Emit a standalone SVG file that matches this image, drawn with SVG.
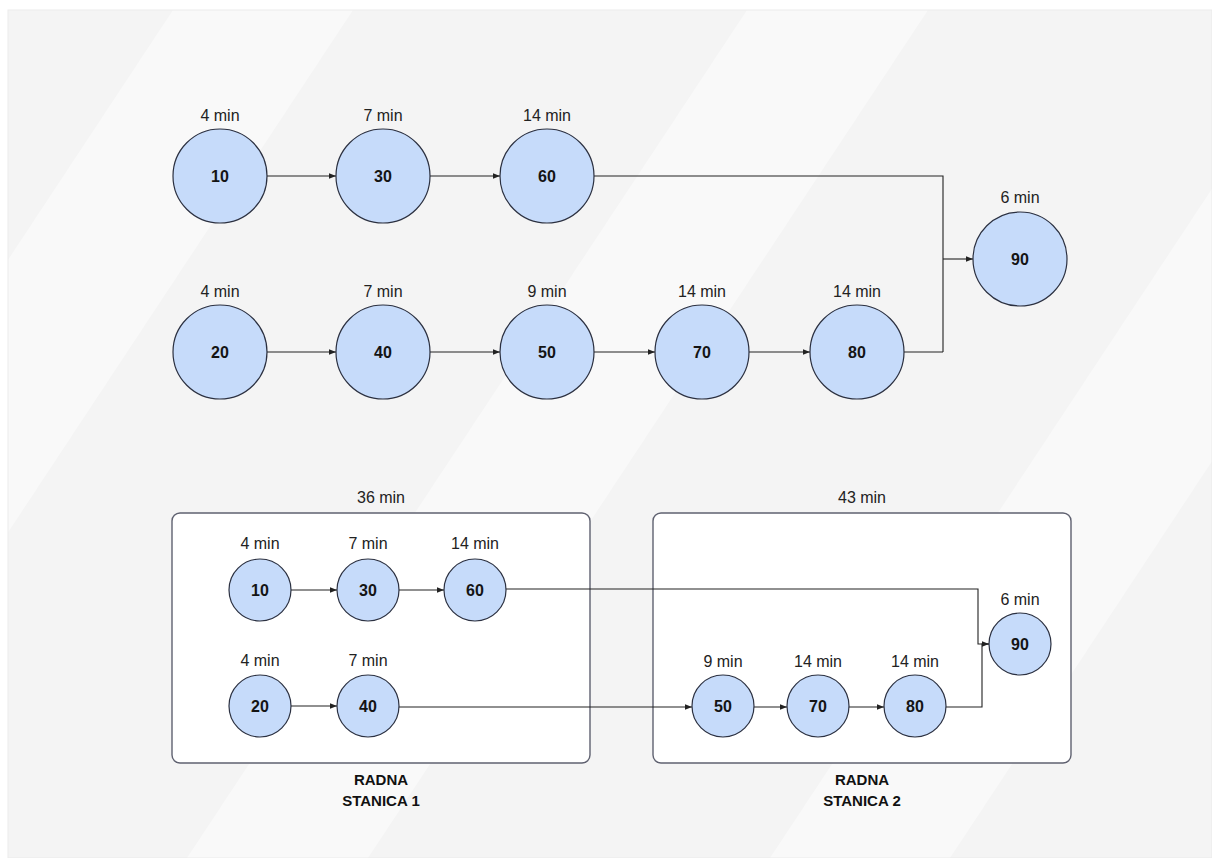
<svg xmlns="http://www.w3.org/2000/svg" width="1212" height="858" viewBox="0 0 1212 858">
<defs>
<marker id="arr" viewBox="0 0 10 10" refX="10" refY="5" markerWidth="7" markerHeight="7" markerUnits="userSpaceOnUse" orient="auto">
<path d="M0,1 L10,5 L0,9 z" fill="#222"/>
</marker>
<style>
.n{fill:#c6dbfa;stroke:#2b3040;stroke-width:1.2}
.t{font-family:"Liberation Sans",Arial,sans-serif;font-size:16px;font-weight:bold;fill:#141414;text-anchor:middle;dominant-baseline:central}
.l{font-family:"Liberation Sans",Arial,sans-serif;font-size:16px;fill:#222;text-anchor:middle;dominant-baseline:central}
.b{font-family:"Liberation Sans",Arial,sans-serif;font-size:15px;font-weight:bold;fill:#111;text-anchor:middle;dominant-baseline:central}
.c{fill:none;stroke:#222;stroke-width:1.1}
.box{fill:#fff;stroke:#5f6170;stroke-width:1.4}
</style>
</defs>
<rect x="0" y="0" width="1212" height="858" fill="#fff"/>
<rect x="8" y="10" width="1204" height="848" fill="#f4f4f4"/>
<g id="bg-stripes" fill="#f9f9f9">
<polygon points="173,10 353,10 -207,858 -387,858"/>
<polygon points="747,10 928,10 368,858 187,858"/>
<polygon points="1330,10 1510,10 950,858 770,858"/>
</g>
<rect x="0" y="0" width="8" height="858" fill="#fff"/>
<rect x="8" y="10" width="1204" height="848" fill="none" stroke="#ebebeb" stroke-width="1"/>

<g id="station1">
<rect class="box" x="172" y="513" width="418" height="250" rx="8"/>
<text class="l" x="381" y="497">36 min</text>
<text class="b" x="381" y="779">RADNA</text>
<text class="b" x="381" y="800">STANICA 1</text>
</g>
<g id="station2">
<rect class="box" x="653" y="513" width="418" height="250" rx="8"/>
<text class="l" x="862" y="497">43 min</text>
<text class="b" x="862" y="779">RADNA</text>
<text class="b" x="862" y="800">STANICA 2</text>
</g>

<g id="connectors">
<line class="c" x1="267" y1="176" x2="336" y2="176" marker-end="url(#arr)"/>
<line class="c" x1="430" y1="176" x2="500" y2="176" marker-end="url(#arr)"/>
<polyline class="c" points="594,176 943,176 943,352"/>
<line class="c" x1="267" y1="352" x2="336" y2="352" marker-end="url(#arr)"/>
<line class="c" x1="430" y1="352" x2="500" y2="352" marker-end="url(#arr)"/>
<line class="c" x1="594" y1="352" x2="655" y2="352" marker-end="url(#arr)"/>
<line class="c" x1="749" y1="352" x2="810" y2="352" marker-end="url(#arr)"/>
<line class="c" x1="904" y1="352" x2="943" y2="352"/>
<line class="c" x1="943" y1="259" x2="973" y2="259" marker-end="url(#arr)"/>

<line class="c" x1="291" y1="590" x2="337" y2="590" marker-end="url(#arr)"/>
<line class="c" x1="399" y1="590" x2="444" y2="590" marker-end="url(#arr)"/>
<polyline class="c" points="506,589 978,589 978,644 989,644" marker-end="url(#arr)"/>
<line class="c" x1="291" y1="706" x2="337" y2="706" marker-end="url(#arr)"/>
<line class="c" x1="399" y1="707" x2="692" y2="707" marker-end="url(#arr)"/>
<line class="c" x1="754" y1="707" x2="787" y2="707" marker-end="url(#arr)"/>
<line class="c" x1="849" y1="707" x2="884" y2="707" marker-end="url(#arr)"/>
<polyline class="c" points="946,707 982,707 982,644 989,644"/>
</g>

<g id="n10"><text class="l" x="220" y="115">4 min</text><circle class="n" cx="220" cy="176" r="47"/><text class="t" x="220" y="176">10</text></g>
<g id="n30"><text class="l" x="383" y="115">7 min</text><circle class="n" cx="383" cy="176" r="47"/><text class="t" x="383" y="176">30</text></g>
<g id="n60"><text class="l" x="547" y="115">14 min</text><circle class="n" cx="547" cy="176" r="47"/><text class="t" x="547" y="176">60</text></g>
<g id="n20"><text class="l" x="220" y="291">4 min</text><circle class="n" cx="220" cy="352" r="47"/><text class="t" x="220" y="352">20</text></g>
<g id="n40"><text class="l" x="383" y="291">7 min</text><circle class="n" cx="383" cy="352" r="47"/><text class="t" x="383" y="352">40</text></g>
<g id="n50"><text class="l" x="547" y="291">9 min</text><circle class="n" cx="547" cy="352" r="47"/><text class="t" x="547" y="352">50</text></g>
<g id="n70"><text class="l" x="702" y="291">14 min</text><circle class="n" cx="702" cy="352" r="47"/><text class="t" x="702" y="352">70</text></g>
<g id="n80"><text class="l" x="857" y="291">14 min</text><circle class="n" cx="857" cy="352" r="47"/><text class="t" x="857" y="352">80</text></g>
<g id="n90"><text class="l" x="1020" y="197">6 min</text><circle class="n" cx="1020" cy="259" r="47"/><text class="t" x="1020" y="259">90</text></g>

<g id="s10"><text class="l" x="260" y="543">4 min</text><circle class="n" cx="260" cy="590" r="31"/><text class="t" x="260" y="590">10</text></g>
<g id="s30"><text class="l" x="368" y="543">7 min</text><circle class="n" cx="368" cy="590" r="31"/><text class="t" x="368" y="590">30</text></g>
<g id="s60"><text class="l" x="475" y="543">14 min</text><circle class="n" cx="475" cy="590" r="31"/><text class="t" x="475" y="590">60</text></g>
<g id="s20"><text class="l" x="260" y="660">4 min</text><circle class="n" cx="260" cy="706" r="31"/><text class="t" x="260" y="706">20</text></g>
<g id="s40"><text class="l" x="368" y="660">7 min</text><circle class="n" cx="368" cy="706" r="31"/><text class="t" x="368" y="706">40</text></g>
<g id="s50"><text class="l" x="723" y="661">9 min</text><circle class="n" cx="723" cy="706" r="31"/><text class="t" x="723" y="706">50</text></g>
<g id="s70"><text class="l" x="818" y="661">14 min</text><circle class="n" cx="818" cy="706" r="31"/><text class="t" x="818" y="706">70</text></g>
<g id="s80"><text class="l" x="915" y="661">14 min</text><circle class="n" cx="915" cy="706" r="31"/><text class="t" x="915" y="706">80</text></g>
<g id="s90"><text class="l" x="1020" y="599">6 min</text><circle class="n" cx="1020" cy="644" r="31"/><text class="t" x="1020" y="644">90</text></g>
</svg>
